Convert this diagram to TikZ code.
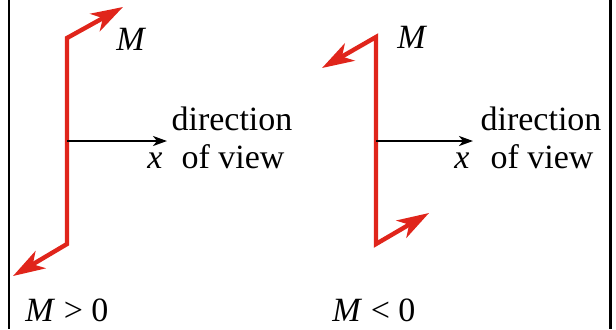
\documentclass[tikz,border=0pt]{standalone}
\usepackage{fontspec}
\setmainfont{Liberation Serif}
\usetikzlibrary{arrows.meta, positioning}
\definecolor{myred}{HTML}{E0251B}
\tikzset{
	mtip/.tip={Stealth[length=16pt, width=10pt, inset=4.5pt]},
	vtip/.tip={Stealth[length=7pt, width=5pt, inset=2pt]}
}
\tikzset{
	momentline/.style={
			draw=myred,
			line width=2.2pt,
			line join=miter,
			mtip-mtip
		},
	viewarrow/.style={
			draw=black,
			line width=1pt,
			-vtip
		},
	framenode/.style={
			draw=black,
			line width=1pt
		},
	labelnode/.style={
			inner sep=0pt,
			anchor=base west,
			font=\fontsize{17}{20.4}\selectfont
		},
	viewtext/.style={
			labelnode,
			anchor=base
		}
}

\begin{document}
\begin{tikzpicture}[x=0.5pt, y=-0.5pt]

  \useasboundingbox (0,0) rectangle (616,329);

  % frame
  \draw[framenode] (9,0) -- (9,329);
  \draw[framenode, line width=1.5pt] (610,0) -- (610,329);

  % M > 0
  \coordinate (ltop) at (67,38);
  \coordinate (lbot) at (67,244);
  \coordinate (lup) at (123,7);
  \coordinate (ldown) at (13,276);
  \coordinate (lmid) at (67,141);
  \coordinate (laxis) at (167,141);

  \draw[momentline] (ldown) -- (lbot) -- (ltop) -- (lup);
  \draw[viewarrow] (lmid) -- (laxis);

  \node[labelnode] (lm) at (116,50) {\textit{M}};
  \node[labelnode] (lx) at (147,168) {\textit{x}};
  \node[viewtext] (ldir) at (232,130) {direction};
  \node[viewtext] (lview) at (233,168) {of view};
  \node[labelnode] (lsign) at (25,321) {\textit{M} > 0};

  % M < 0
  \coordinate (rtop) at (376,37);
  \coordinate (rbot) at (376,244);
  \coordinate (rup) at (322,68);
  \coordinate (rdown) at (429,213);
  \coordinate (rmid) at (376,141);
  \coordinate (raxis) at (473,141);

  \draw[momentline] (rup) -- (rtop) -- (rbot) -- (rdown);
  \draw[viewarrow] (rmid) -- (raxis);

  \node[labelnode] (rm) at (397,48) {\textit{M}};
  \node[labelnode] (rx) at (454,168) {\textit{x}};
  \node[viewtext] (rdir) at (541,130) {direction};
  \node[viewtext] (rview) at (542,168) {of view};
  \node[labelnode] (rsign) at (332,321) {\textit{M} < 0};

\end{tikzpicture}
\end{document}
